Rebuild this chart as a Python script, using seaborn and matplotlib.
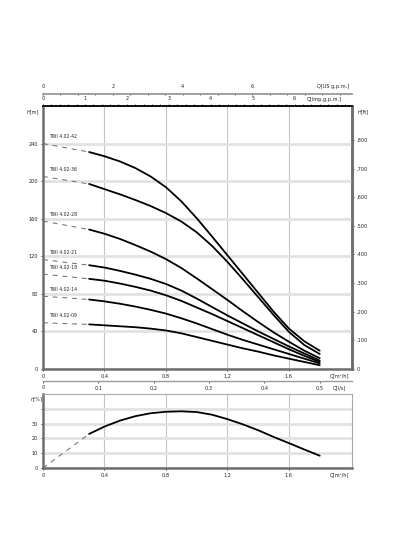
import numpy as np
import pandas as pd
import matplotlib
matplotlib.use("Agg")
import matplotlib.pyplot as plt
import seaborn as sns

# ---------------- data ----------------
pump_models = ["TWI 4.02-42", "TWI 4.02-36", "TWI 4.02-28", "TWI 4.02-21",
               "TWI 4.02-18", "TWI 4.02-14", "TWI 4.02-09"]
q_curve = [0.3, 0.4, 0.5, 0.6, 0.7, 0.8, 0.9, 1.0, 1.1, 1.2, 1.3, 1.4, 1.5, 1.6, 1.7, 1.8]
h_42 = [231, 226.5, 221, 214, 205, 193.5, 178.5, 160.5, 141, 121, 101, 81, 61, 43, 29.5, 19.5]
h_36 = [197, 191.5, 186, 180, 173.5, 166, 157, 145.5, 131, 114, 95.5, 76.5, 57.5, 39.5, 25.5, 16]
h_28 = [148.5, 144, 138.5, 132, 125, 117, 107.5, 96.5, 85, 73.5, 61.5, 50, 39, 29, 19.5, 11.5]
h_21 = [110.5, 108, 104.5, 100.5, 96, 90.5, 83.5, 75, 66, 57, 48.5, 40, 32, 24, 16.5, 9]
h_18 = [96, 94, 91, 87.5, 83.5, 78.5, 72.5, 65.5, 58.5, 51, 43.5, 36, 28.5, 21, 14, 7.5]
h_14 = [74, 72, 69.5, 66.5, 63, 59, 54, 48.5, 42.5, 36.5, 31, 26, 21, 16, 11, 6]
h_09 = [47.5, 46.5, 45.5, 44.5, 43, 41, 38, 34, 30, 26, 22, 18.5, 14.5, 11, 7.5, 4]
h_curves = [h_42, h_36, h_28, h_21, h_18, h_14, h_09]
h_shutoff = [240, 205, 157.5, 116.5, 101, 77.5, 49.2]   # dashed start at Q = 0
q_shutoff = [0.0, 0.3]

eta_q = [0.3, 0.4, 0.5, 0.6, 0.7, 0.8, 0.9, 1.0, 1.1, 1.2, 1.3, 1.4, 1.5, 1.6, 1.7, 1.8]
eta_values = [23, 28, 32, 35, 37, 38, 38.3, 37.8, 36, 33, 29.5, 25.5, 21, 16.8, 12.5, 8.3]
eta_dash_q = [0.0, 0.3]
eta_dash_v = [0.0, 23]

q_ticks = [0, 0.4, 0.8, 1.2, 1.6]
q_ticklabels = ["0", "0,4", "0,8", "1,2", "1,6"]
h_ticks = [0, 40, 80, 120, 160, 200, 240]
h_ticklabels = ["0", "40", "80", "120", "160", "200", "240"]
ft_ticks = [0, 100, 200, 300, 400, 500, 600, 700, 800]
ft_ticklabels = ["0", ".100", ".200", ".300", ".400", ".500", ".600", ".700", ".800"]
imp_ticks = [0, 1, 2, 3, 4, 5, 6]
us_ticks = [0, 2, 4, 6]
ls_ticks = [0, 0.1, 0.2, 0.3, 0.4, 0.5]
ls_ticklabels = ["0", "0,1", "0,2", "0,3", "0,4", "0,5"]
eta_ticks = [0, 10, 20, 30, 40]
eta_ticklabels = ["0", "10", "20", "30", ""]

# conversions
IMP_PER_M3H = 3.6662
US_PER_M3H = 4.4029
LS_PER_M3H = 1 / 3.6
FT_PER_M = 1 / 0.3048

# ---------------- style ----------------
sns.set_theme(style="white")
plt.rcParams['font.family'] = ['DejaVu Sans']
FS = 3.6
SPINE = "#6e6e6e"

fig = plt.figure(figsize=(3.96, 5.6), dpi=100)
ax = fig.add_axes([43 / 396, 1 - 369 / 560, 309 / 396, 263 / 560])

rows = []
for m, hs in zip(pump_models, h_curves):
    for q, h in zip(q_curve, hs):
        rows.append({"model": m, "Q": q, "H": h})
df = pd.DataFrame(rows)
drows = []
for m, h0, hs in zip(pump_models, h_shutoff, h_curves):
    drows.append({"model": m, "Q": q_shutoff[0], "H": h0})
    drows.append({"model": m, "Q": q_shutoff[1], "H": hs[0]})
ddf = pd.DataFrame(drows)

for m in pump_models:
    sns.lineplot(data=ddf[ddf.model == m], x="Q", y="H", ax=ax, color="#6a6a6a",
                 lw=0.7, linestyle=(0, (5, 5)), sort=False, estimator=None)
    sns.lineplot(data=df[df.model == m], x="Q", y="H", ax=ax, color="black",
                 lw=1.3, sort=False, estimator=None)

for m, h0 in zip(pump_models, h_shutoff):
    ax.text(0.04, h0 + 7.5, m, fontsize=3.3, va="center", ha="left", color="#222")

ax.set_xlim(0, 2.01)
ax.set_ylim(0, 280)
ax.set_xlabel("")
ax.set_ylabel("")
ax.set_xticks(q_ticks)
ax.set_xticklabels(q_ticklabels)
ax.set_yticks(h_ticks)
ax.set_yticklabels(h_ticklabels)
ax.tick_params(axis="both", labelsize=FS, length=1.5, width=0.6, pad=2,
               colors="#222", left=True, bottom=True)
ax.yaxis.grid(True, color="#e2e2e2", lw=2.0)
ax.xaxis.grid(True, color="#c4c4c4", lw=0.8)
ax.set_axisbelow(True)
for s in ["left", "bottom", "right"]:
    ax.spines[s].set_color(SPINE)
    ax.spines[s].set_linewidth(1.8)
ax.spines["top"].set_color("#111")
ax.spines["top"].set_linewidth(1.3)
ax.text(1.93, -0.018, "Q[m³/h]", transform=ax.get_xaxis_transform(),
        fontsize=FS, ha="center", va="top", color="#222")

# right axis in feet
sec_ft = ax.secondary_yaxis("right", functions=(lambda h: h * FT_PER_M, lambda f: f / FT_PER_M))
sec_ft.set_yticks(ft_ticks)
sec_ft.set_yticklabels(ft_ticklabels)
sec_ft.tick_params(labelsize=FS, length=1.5, width=0.6, pad=1.5, colors="#222")
sec_ft.spines["right"].set_color(SPINE)
sec_ft.spines["right"].set_linewidth(1.8)

# top axis Imp gpm
sec_imp = ax.secondary_xaxis("top", functions=(lambda q: q * IMP_PER_M3H, lambda g: g / IMP_PER_M3H))
sec_imp.set_xticks(imp_ticks)
sec_imp.set_xticklabels([str(t) for t in imp_ticks])
sec_imp.set_xticks(np.arange(0, 7.3, 0.2), minor=True)
sec_imp.tick_params(which="both", labelsize=FS, length=1.8, width=0.6, pad=1.5, colors="#222")
sec_imp.spines["top"].set_color("#111")
sec_imp.spines["top"].set_linewidth(1.3)
ax.text(1.83, 1.015, "Q[Imp.g.p.m.]", transform=ax.get_xaxis_transform(),
        fontsize=FS, ha="center", va="bottom", color="#222")

# upper axis US gpm
us_loc = (369 - 94.3) / 263
sec_us = ax.secondary_xaxis(us_loc, functions=(lambda q: q * US_PER_M3H, lambda g: g / US_PER_M3H))
sec_us.set_alignment("top")
sec_us.set_xticks(us_ticks)
sec_us.set_xticklabels([str(t) for t in us_ticks])
sec_us.set_xticks(np.arange(0, 8.9, 0.5), minor=True)
sec_us.tick_params(which="both", labelsize=FS, length=1.8, width=0.6, pad=3,
                   direction="inout", colors="#222")
sec_us.spines["top"].set_color("#9a9a9a")
sec_us.spines["top"].set_linewidth(1.3)
ax.text(1.89, us_loc + 0.02, "Q[US g.p.m.]", transform=ax.get_xaxis_transform(),
        fontsize=FS, ha="center", va="bottom", color="#222")

# lower axis l/s
ls_loc = (369 - 381) / 263
sec_ls = ax.secondary_xaxis(ls_loc, functions=(lambda q: q * LS_PER_M3H, lambda l: l / LS_PER_M3H))
sec_ls.set_alignment("bottom")
sec_ls.set_xticks(ls_ticks)
sec_ls.set_xticklabels(ls_ticklabels)
sec_ls.tick_params(which="both", labelsize=FS, length=1.2, width=0.5, pad=2, colors="#222")
sec_ls.spines["bottom"].set_color("#9a9a9a")
sec_ls.spines["bottom"].set_linewidth(1.0)
ax.text(1.93, ls_loc - 0.018, "Q[l/s]", transform=ax.get_xaxis_transform(),
        fontsize=FS, ha="center", va="top", color="#222")

fig.text(33 / 396, 1 - 112 / 560, "H[m]", fontsize=FS, ha="center", va="center", color="#222")
fig.text(363 / 396, 1 - 112 / 560, "H[ft]", fontsize=FS, ha="center", va="center", color="#222")

# ---------------- efficiency panel ----------------
ax_e = fig.add_axes([43 / 396, 1 - 468 / 560, 309 / 396, 74 / 560])
edf = pd.DataFrame({"Q": eta_q, "eta": eta_values})
edd = pd.DataFrame({"Q": eta_dash_q, "eta": eta_dash_v})
sns.lineplot(data=edd, x="Q", y="eta", ax=ax_e, color="#6a6a6a", lw=0.7,
             linestyle=(0, (5, 5)), sort=False, estimator=None)
sns.lineplot(data=edf, x="Q", y="eta", ax=ax_e, color="black", lw=1.3,
             sort=False, estimator=None)
ax_e.set_xlim(0, 2.01)
ax_e.set_ylim(0, 50)
ax_e.set_xlabel("")
ax_e.set_ylabel("")
ax_e.set_xticks(q_ticks)
ax_e.set_xticklabels(q_ticklabels)
ax_e.set_yticks(eta_ticks)
ax_e.set_yticklabels(eta_ticklabels)
ax_e.tick_params(axis="both", labelsize=FS, length=1.5, width=0.6, pad=2,
                 colors="#222", left=True, bottom=True)
ax_e.yaxis.grid(True, color="#e2e2e2", lw=2.0)
ax_e.xaxis.grid(True, color="#c4c4c4", lw=0.8)
ax_e.set_axisbelow(True)
for s in ["left", "bottom"]:
    ax_e.spines[s].set_color(SPINE)
    ax_e.spines[s].set_linewidth(1.8)
for s in ["top", "right"]:
    ax_e.spines[s].set_color("#a8a8a8")
    ax_e.spines[s].set_linewidth(0.8)
ax_e.text(1.93, -0.06, "Q[m³/h]", transform=ax_e.get_xaxis_transform(),
          fontsize=FS, ha="center", va="top", color="#222")
fig.text(36 / 396, 1 - 399 / 560, "η[%]", fontsize=FS, ha="center", va="center", color="#222")

fig.savefig("out.png", dpi=100, facecolor="white")
